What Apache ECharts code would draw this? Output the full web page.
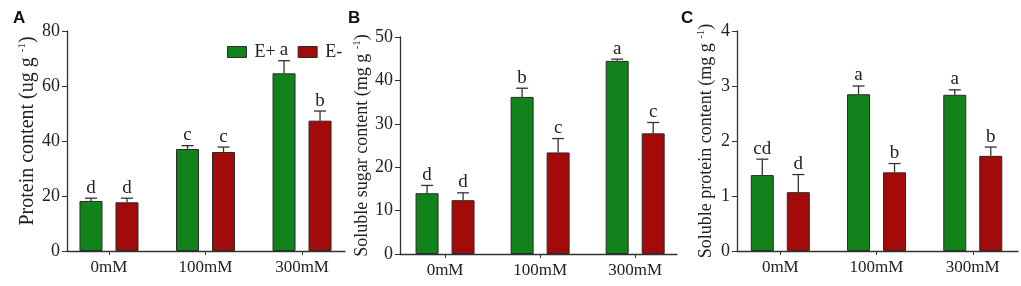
<!DOCTYPE html>
<html>
<head>
<meta charset="utf-8">
<script src="https://cdn.jsdelivr.net/npm/echarts@6/dist/echarts.min.js"></script>
<style>
  html, body { margin: 0; padding: 0; background: #fff; }
  #main { width: 1021px; height: 286px; }
</style>
</head>
<body>
<div id="main"></div>
<script>
// 分组 (x 轴)
var categories = ['0mM', '100mM', '300mM'];
var seriesNames = ['E+', 'E-'];

// A: Protein content
var aEplus = [18.2, 37.1, 64.6];
var aEplusErr = [1.0, 1.2, 4.6];
var aEminus = [17.7, 36.0, 47.4];
var aEminusErr = [1.5, 1.8, 3.5];
var aEplusLetters = ['d', 'c', 'a'];
var aEminusLetters = ['d', 'c', 'b'];

// B: Soluble sugar content
var bEplus = [14.0, 36.2, 44.5];
var bEplusErr = [1.8, 2.0, 0.4];
var bEminus = [12.4, 23.4, 27.8];
var bEminusErr = [1.7, 3.2, 2.5];
var bEplusLetters = ['d', 'b', 'a'];
var bEminusLetters = ['d', 'c', 'c'];

// C: Soluble protein content
var cEplus = [1.38, 2.85, 2.84];
var cEplusErr = [0.29, 0.15, 0.09];
var cEminus = [1.07, 1.43, 1.73];
var cEminusErr = [0.32, 0.16, 0.16];
var cEplusLetters = ['cd', 'a', 'a'];
var cEminusLetters = ['d', 'b', 'b'];

// y 轴刻度
var aTicks = [0, 20, 40, 60, 80];
var bTicks = [0, 10, 20, 30, 40, 50];
var cTicks = [0, 1, 2, 3, 4];

var GREEN = '#12821a';
var RED = '#a30a0a';
var AXIS = '#333';
var SERIF = '"Liberation Serif", "DejaVu Serif", serif';
var BAR_W = 23;
var BAR_GAP = 13; // px between the two bars

var panels = [
  { label: 'A', name: 'Protein content (ug g', ticks: aTicks, nameSize: 20, namePad: [0, 0, 0, 20],
    ep: aEplus, epErr: aEplusErr, em: aEminus, emErr: aEminusErr, epL: aEplusLetters, emL: aEminusLetters,
    grid: { left: 67, top: 31, width: 278, height: 220 }, xMin: -0.435, xMax: 2.445, nameGap: 29 },
  { label: 'B', name: 'Soluble sugar content (mg g', ticks: bTicks, nameSize: 18, namePad: 0,
    ep: bEplus, epErr: bEplusErr, em: bEminus, emErr: bEminusErr, epL: bEplusLetters, emL: bEminusLetters,
    grid: { left: 400, top: 37, width: 277, height: 217 }, xMin: -0.474, xMax: 2.44, nameGap: 24 },
  { label: 'C', name: 'Soluble protein content (mg g', ticks: cTicks, nameSize: 18, namePad: 0,
    ep: cEplus, epErr: cEplusErr, em: cEminus, emErr: cEminusErr, epL: cEplusLetters, emL: cEminusLetters,
    grid: { left: 737, top: 31, width: 281, height: 220 }, xMin: -0.45, xMax: 2.47, nameGap: 20 }
];

var labelX = [8, 343, 676];

function errItem(params, api) {
  var x = api.value(0);
  var mean = api.value(1);
  var err = api.value(2);
  var side = api.value(3);
  var shift = side * (BAR_W + BAR_GAP) / 2;
  var base = api.coord([x, mean]);
  var top = api.coord([x, mean + err]);
  var cx = base[0] + shift;
  var letter = api.value(4);
  var half = 6;
  return {
    type: 'group',
    children: [
      { type: 'line', shape: { x1: cx, y1: base[1], x2: cx, y2: top[1] }, style: { stroke: AXIS, lineWidth: 1.3 } },
      { type: 'line', shape: { x1: cx - half, y1: top[1], x2: cx + half, y2: top[1] }, style: { stroke: AXIS, lineWidth: 1.3 } },
      { type: 'text', style: { x: cx, y: top[1] - 1, text: letter, align: 'center', verticalAlign: 'bottom',
          fontFamily: SERIF, fontSize: 19, fill: '#222' } }
    ]
  };
}

var grids = [], xAxes = [], yAxes = [], series = [], titles = [];

panels.forEach(function (p, i) {
  grids.push(p.grid);
  titles.push({ text: p.label, left: labelX[i], top: 5,
    textStyle: { fontFamily: '"Liberation Sans", Arial, sans-serif', fontWeight: 'bold', fontSize: 17, color: '#111' } });
  xAxes.push({
    type: 'value', gridIndex: i, min: p.xMin, max: p.xMax,
    splitLine: { show: false },
    axisLine: { onZero: false, lineStyle: { color: AXIS, width: 1.3 } },
    axisTick: { show: true, length: 4, customValues: [0, 1, 2], lineStyle: { color: AXIS } },
    axisLabel: { customValues: [0, 1, 2], margin: 8, color: '#222', fontFamily: SERIF, fontSize: 17,
      formatter: function (v) { return categories[Math.round(v)]; } }
  });
  yAxes.push({
    type: 'value', gridIndex: i, min: p.ticks[0], max: p.ticks[p.ticks.length - 1],
    interval: p.ticks[1] - p.ticks[0],
    splitLine: { show: false },
    axisLine: { show: true, onZero: false, lineStyle: { color: AXIS, width: 1.3 } },
    axisTick: { show: true, length: 5, lineStyle: { color: AXIS } },
    axisLabel: { margin: 7, color: '#222', fontFamily: SERIF, fontSize: 18 },
    name: '{n|' + p.name + ' }{s|-1}{n|)}',
    nameLocation: 'middle', nameRotate: 90, nameGap: p.nameGap,
    nameTextStyle: {
      padding: p.namePad,
      rich: {
        n: { fontFamily: SERIF, fontSize: p.nameSize, color: '#222' },
        s: { fontFamily: SERIF, fontSize: 11, color: '#222', padding: [0, 0, 10, 0] }
      }
    }
  });
  var epData = p.ep.map(function (v, k) { return [k, v]; });
  var emData = p.em.map(function (v, k) { return [k, v]; });
  series.push({
    name: seriesNames[0], type: 'bar', xAxisIndex: i, yAxisIndex: i, data: epData,
    barWidth: BAR_W, barGap: (BAR_GAP / BAR_W * 100) + '%',
    itemStyle: { color: GREEN, borderColor: '#2a2a2a', borderWidth: 1 }
  });
  series.push({
    name: seriesNames[1], type: 'bar', xAxisIndex: i, yAxisIndex: i, data: emData,
    barWidth: BAR_W, barGap: (BAR_GAP / BAR_W * 100) + '%',
    itemStyle: { color: RED, borderColor: '#2a2a2a', borderWidth: 1 }
  });
  var errData = [];
  p.ep.forEach(function (v, k) { errData.push([k, v, p.epErr[k], -1, p.epL[k]]); });
  p.em.forEach(function (v, k) { errData.push([k, v, p.emErr[k], 1, p.emL[k]]); });
  series.push({
    type: 'custom', xAxisIndex: i, yAxisIndex: i, data: errData, renderItem: errItem, z: 5,
    encode: { x: 0, y: [1, 2] }, clip: false
  });
});

var myChart = echarts.init(document.getElementById('main'), null, { renderer: 'canvas' });
var option = {
  animation: false,
  backgroundColor: '#fff',
  title: titles,
  legend: {
    data: seriesNames, left: 222, top: 38, itemWidth: 19, itemHeight: 11, itemGap: 22,
    icon: 'rect', textStyle: { fontFamily: SERIF, fontSize: 18, color: '#222', padding: [0, 0, 0, 3] },
    itemStyle: { borderColor: '#2a2a2a', borderWidth: 1 }
  },
  grid: grids,
  xAxis: xAxes,
  yAxis: yAxes,
  series: series
};
option && myChart.setOption(option);
</script>
</body>
</html>
